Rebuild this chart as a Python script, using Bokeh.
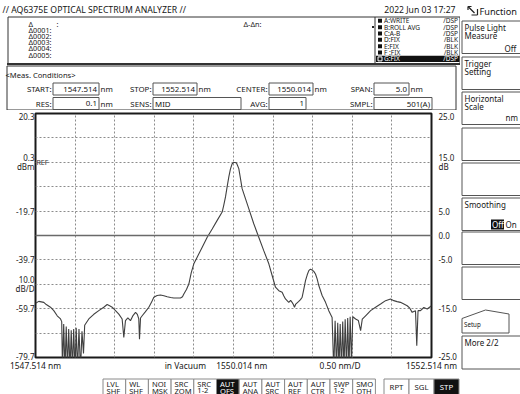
from bokeh.plotting import figure
from bokeh.layouts import row, column
from bokeh.models import Range1d, LinearAxis, FixedTicker, PrintfTickFormatter, Label, Span, Spacer
from bokeh.core.properties import value
from bokeh.embed import file_html
from bokeh.resources import INLINE

wavelength_nm = [
    1547.514, 1547.556, 1547.619, 1547.650, 1547.703, 1547.745, 1547.788, 1547.830, 1547.845,
    1547.855, 1547.870, 1547.886, 1547.902, 1547.918, 1547.933, 1547.950, 1547.965, 1547.981,
    1547.996, 1548.013, 1548.028, 1548.044, 1548.063, 1548.082, 1548.101, 1548.120, 1548.135,
    1548.145, 1548.187, 1548.250, 1548.313, 1548.376, 1548.419, 1548.450, 1548.482, 1548.524,
    1548.566, 1548.608, 1548.629, 1548.650, 1548.680, 1548.713, 1548.745, 1548.777, 1548.800,
    1548.818, 1548.827, 1548.840, 1548.861, 1548.900, 1548.945, 1548.980, 1549.008, 1549.050,
    1549.092, 1549.135, 1549.177, 1549.220, 1549.260, 1549.300, 1549.345, 1549.370, 1549.387,
    1549.420, 1549.450, 1549.480, 1549.513, 1549.555, 1549.619, 1549.682, 1549.745, 1549.808,
    1549.871, 1549.890, 1549.913, 1549.935, 1549.955, 1549.975, 1549.997, 1550.017, 1550.035,
    1550.052, 1550.065, 1550.081, 1550.100, 1550.123, 1550.165, 1550.207, 1550.270, 1550.333,
    1550.396, 1550.460, 1550.502, 1550.544, 1550.586, 1550.628, 1550.650, 1550.670, 1550.712,
    1550.735, 1550.754, 1550.770, 1550.784, 1550.800, 1550.838, 1550.860, 1550.881, 1550.900,
    1550.923, 1550.945, 1550.965, 1550.985, 1551.007, 1551.030, 1551.049, 1551.070, 1551.091,
    1551.133, 1551.176, 1551.217, 1551.259, 1551.280, 1551.297, 1551.315, 1551.330, 1551.346,
    1551.361, 1551.378, 1551.393, 1551.409, 1551.424, 1551.441, 1551.456, 1551.472, 1551.487,
    1551.504, 1551.520, 1551.556, 1551.590, 1551.619, 1551.640, 1551.682, 1551.745, 1551.808,
    1551.871, 1551.934, 1551.997, 1552.038, 1552.080, 1552.122, 1552.165, 1552.207, 1552.240,
    1552.270, 1552.312, 1552.328, 1552.344, 1552.375, 1552.417, 1552.460, 1552.514,
]
level_dbm = [
    -57.5, -56.7, -57.1, -58.0, -59.1, -60.5, -62.6, -63.9, -65.0,
    -85.0, -66.0, -85.0, -67.0, -85.0, -68.0, -85.0, -68.5, -85.0,
    -68.0, -85.0, -67.5, -85.0, -68.0, -85.0, -69.0, -78.0, -66.5,
    -66.0, -63.9, -62.0, -60.5, -59.1, -58.0, -58.5, -59.1, -60.5,
    -61.9, -63.9, -71.5, -64.6, -63.5, -64.6, -62.5, -61.2, -62.0,
    -63.9, -72.2, -63.5, -62.6, -61.0, -59.1, -57.0, -55.0, -54.3,
    -54.1, -54.4, -54.8, -55.1, -55.3, -55.3, -55.3, -54.8, -53.7,
    -51.8, -49.6, -45.0, -41.3, -38.6, -34.5, -30.4, -27.0, -23.5,
    -20.1, -17.5, -13.9, -9.5, -5.7, -2.5, -0.3, 0.2, 0.2,
    0.0, -1.0, -2.3, -6.0, -10.5, -14.6, -18.7, -24.9, -30.4,
    -35.9, -41.3, -46.1, -50.9, -52.3, -53.0, -54.5, -55.7, -57.1,
    -56.3, -57.1, -58.0, -59.1, -57.8, -56.7, -56.0, -55.0, -52.0,
    -48.2, -45.8, -44.1, -43.5, -43.8, -44.5, -45.5, -47.5, -50.2,
    -54.3, -57.1, -60.5, -63.3, -85.0, -64.6, -85.0, -65.5, -85.0,
    -66.0, -85.0, -65.0, -85.0, -64.0, -85.0, -63.5, -85.0, -63.0,
    -82.0, -63.0, -63.9, -64.5, -68.7, -64.0, -62.6, -60.5, -59.1,
    -57.8, -56.4, -55.7, -56.4, -56.8, -57.1, -57.8, -58.5, -59.5,
    -61.2, -60.5, -74.9, -60.5, -60.5, -59.2, -59.8, -58.5,
]

x_start_nm, x_stop_nm = 1547.514, 1552.514
y_bottom_dbm, y_top_dbm = -79.7, 20.3
rel_bottom_db, rel_top_db = -25.0, 25.0
x_grid_nm = [1548.014, 1548.514, 1549.014, 1549.514, 1550.014,
             1550.514, 1551.014, 1551.514, 1552.014]
y_grid_dbm = [10.3, 0.3, -9.7, -19.7, -29.7, -39.7, -49.7, -59.7, -69.7]
ref_line_dbm = -29.7
left_ticks = [20.3, 0.3, -19.7, -39.7, -49.7, -59.7, -79.7]
left_overrides = {0.3: "0.3\ndBm", -49.7: "10.0\ndB/D"}
right_ticks = [25.0, 15.0, 5.0, 0.0, -5.0, -15.0, -25.0]
right_overrides = {15.0: "15.0\ndB"}
x_label_nm = [1547.514, 1549.406, 1550.118, 1551.360, 1552.514]
x_label_text = ["1547.514 nm", "in Vacuum", "1550.014 nm", "0.50 nm/D", "1552.514 nm"]

title_text = "// AQ6375E OPTICAL SPECTRUM ANALYZER //"
date_text = "2022 Jun 03 17:27"
marker_rows = ["\u0394", "\u03940001:", "\u03940002:", "\u03940003:", "\u03940004:", "\u03940005:"]
trace_rows = [("A:WRITE", "/DSP"), ("B:ROLL AVG", "/DSP"), ("C:A-B", "/DSP"),
              ("D:FIX", "/BLK"), ("E:FIX", "/BLK"), ("F :FIX", "/BLK"), ("G:FIX", "/DSP")]
meas_row1 = [("START:", "1547.514", "nm"), ("STOP:", "1552.514", "nm"),
             ("CENTER:", "1550.014", "nm"), ("SPAN:", "5.0", "nm")]
meas_row2 = [("RES:", "0.1", "nm"), ("SENS:", "MID", ""), ("AVG:", "1", ""), ("SMPL:", "501(A)", "")]
soft_keys = [("LVL", "SHF"), ("WL", "SHF"), ("NOI", "MSK"), ("SRC", "ZOM"), ("SRC", "1-2"),
             ("AUT", "OFS"), ("AUT", "ANA"), ("AUT", "SRC"), ("AUT", "REF"), ("AUT", "CTR"),
             ("SWP", "1-2"), ("SMO", "OTH")]
sweep_keys = ["RPT", "SGL", "STP"]
menu_keys = [["Pulse Light", "Measure"], ["Trigger", "Setting"], ["Horizontal", "Scale"],
             [], [], ["Smoothing"], [], []]

FONT = "Noto Sans"
INK = "#161616"

# ---------------- page geometry (pixels) ----------------
W, H = 520, 394
LEFT_W = 460
TOP_H = 110
PLOT_H = 251
XLAB_H = 15
KEYS_H = H - TOP_H - PLOT_H - XLAB_H
FRAME_L, FRAME_R = 35, 431
FRAME_T, FRAME_B = 113, 357
PAD = 1  # spacer so the spectrum frame is not aligned with the other panels


def chrome(w, h, x0, y0, x_range=None):
    f = figure(width=w, height=h, output_backend="svg", toolbar_location=None,
               x_range=x_range if x_range is not None else Range1d(x0, x0 + w),
               y_range=Range1d(y0 + h, y0), x_axis_location=None, y_axis_location=None,
               min_border=0, min_border_left=0, min_border_right=0,
               min_border_top=0, min_border_bottom=0,
               background_fill_color="white", border_fill_color="white")
    f.title.visible = False
    f.grid.visible = False
    f.outline_line_color = None
    return f


def txt(f, x, y, s, size=8.0, align="left", color=INK, font=FONT):
    f.text(x=[x], y=[y], text=[s], text_font=value(font), text_font_size=value(f"{size}px"),
           text_align=align, text_baseline="middle", text_color=color)


def box(f, x0, y0, x1, y1, fill=None, line="#555555", lw=1):
    f.quad(left=[x0], right=[x1], top=[y0], bottom=[y1],
           fill_color=fill if fill else "white", fill_alpha=1.0 if fill else 0.0,
           line_color=line if line else "white", line_alpha=1.0 if line else 0.0,
           line_width=lw)


def hline(f, x0, x1, y, color="#333333", lw=1):
    f.segment(x0=[x0], y0=[y], x1=[x1], y1=[y], line_color=color, line_width=lw)


# ---------------- header ----------------
top = chrome(LEFT_W, TOP_H, 0, 0)
txt(top, 2, 9, title_text, size=8.7)
txt(top, 455, 9, date_text, size=8.6, align="right")
box(top, 7.5, 16.5, 459.5, 63, line="#333333")
top.segment(x0=[374.5], y0=[16.5], x1=[374.5], y1=[63], line_color="#333333", line_width=1)
for i, m in enumerate(marker_rows):
    txt(top, 28, 23 + 6.2 * i, m, size=7.2)
txt(top, 56, 23, ":", size=7.2)
txt(top, 243, 23, "\u0394-\u0394n:", size=7.2)
box(top, 371.5, 25.5, 373.5, 27.5, fill="#222222", line=None)
for i, (name, mode) in enumerate(trace_rows):
    yc = 20.3 + 6.35 * i
    last = i == len(trace_rows) - 1
    if last:
        box(top, 375.5, yc - 3.1, 459, yc + 3.1, fill="#111111", line=None)
        box(top, 377.5, yc - 2, 381.5, yc + 2, fill="#111111", line="#ffffff")
    else:
        box(top, 377.5, yc - 2, 381.5, yc + 2, fill="#111111", line=None)
    col = "white" if last else INK
    txt(top, 383.5, yc, name, size=6.5, color=col)
    txt(top, 457.5, yc, mode, size=6.5, align="right", color=col)

# measurement conditions
hline(top, 6.5, 459.5, 63.5, lw=2)
box(top, 6.5, 65.5, 455.5, 109.5, line="#333333")
txt(top, 5, 74, "<Meas. Conditions>", size=7.6)
label_end = [51, 151, 267, 372]
fields1 = [(52.5, 98.5), (152.5, 196.5), (268.5, 312.5), (373.5, 408.5)]
fields2 = [(52.5, 98.5), (152.5, 240.5), (268.5, 305.5), (373.5, 431.5)]
for items, yc, fields in ((meas_row1, 88.5, fields1), (meas_row2, 103, fields2)):
    for k, (lab, val, unit) in enumerate(items):
        bx0, bx1 = fields[k]
        txt(top, label_end[k], yc, lab, size=7.9, align="right")
        box(top, bx0, yc - 6, bx1, yc + 6, fill="white", line="#555555")
        if val == "MID":
            txt(top, bx0 + 2, yc, val, size=7.9)
        else:
            txt(top, bx1 - 2, yc, val, size=7.9, align="right")
        if unit:
            txt(top, bx1 + 1.5, yc, unit, size=7.9)

# ---------------- spectrum ----------------
plot_w = LEFT_W - 2 * PAD
plot = figure(width=plot_w, height=PLOT_H, output_backend="svg", toolbar_location=None,
              x_range=Range1d(x_start_nm, x_stop_nm), y_range=Range1d(y_bottom_dbm, y_top_dbm),
              x_axis_location=None, y_axis_location="left",
              min_border_left=FRAME_L - PAD, min_border_right=LEFT_W - PAD - FRAME_R,
              min_border_top=FRAME_T - TOP_H, min_border_bottom=TOP_H + PLOT_H - FRAME_B,
              background_fill_color="white", border_fill_color="white")
plot.title.visible = False
plot.outline_line_color = "#1a1a1a"
plot.outline_line_width = 2
plot.xgrid[0].ticker = FixedTicker(ticks=x_grid_nm)
plot.ygrid[0].ticker = FixedTicker(ticks=y_grid_dbm)
for g in (plot.xgrid[0], plot.ygrid[0]):
    g.grid_line_color = "#8c8c8c"
    g.grid_line_dash = "2 2"
    g.grid_line_width = 1


def style_axis(ax, standoff):
    ax.major_tick_line_color = None
    ax.minor_tick_line_color = None
    ax.axis_line_color = None
    ax.major_tick_out = 0
    ax.major_tick_in = 0
    ax.minor_tick_out = 0
    ax.minor_tick_in = 0
    ax.major_label_standoff = standoff
    ax.major_label_text_font = FONT
    ax.major_label_text_font_size = "8px"
    ax.major_label_text_color = "#222222"
    ax.major_label_text_line_height = 0.85


ya = plot.yaxis[0]
ya.ticker = FixedTicker(ticks=left_ticks)
ya.formatter = PrintfTickFormatter(format="%.1f")
ya.major_label_overrides = left_overrides
style_axis(ya, 1)

plot.extra_y_ranges = {"rel": Range1d(rel_bottom_db, rel_top_db)}
ra = LinearAxis(y_range_name="rel", ticker=FixedTicker(ticks=right_ticks),
                formatter=PrintfTickFormatter(format="%.1f"),
                major_label_overrides=right_overrides)
style_axis(ra, 7)
plot.add_layout(ra, "right")

plot.line(wavelength_nm, level_dbm, line_color="#404040", line_width=1.1)
plot.add_layout(Span(location=ref_line_dbm, dimension="width", line_color="#6a6a6a", line_width=1.5))
plot.add_layout(Label(x=x_start_nm, y=0.3, text="REF", x_offset=1, text_baseline="middle",
                      text_font=FONT, text_font_size="7px", text_color="#333333"))

plot_row = row(Spacer(width=PAD, height=PLOT_H), plot, Spacer(width=PAD, height=PLOT_H), spacing=0)

# ---------------- x information line, on the same wavelength scale ----------------
nm_per_px = (x_stop_nm - x_start_nm) / (FRAME_R - FRAME_L)
xl_range = Range1d(x_start_nm - FRAME_L * nm_per_px, x_start_nm + (LEFT_W - FRAME_L) * nm_per_px)
xlab = chrome(LEFT_W, XLAB_H, 0, TOP_H + PLOT_H, x_range=xl_range)
xlab.text(x=x_label_nm, y=[365] * len(x_label_nm), text=x_label_text,
          text_font=value(FONT), text_font_size=value("8.4px"), text_align="center",
          text_baseline="middle", text_color=INK)

# ---------------- soft keys ----------------
keys = chrome(LEFT_W, KEYS_H, 0, TOP_H + PLOT_H + XLAB_H)
kx0, kw = 102.5, 22.7
for i, (a, b) in enumerate(soft_keys):
    x0 = kx0 + kw * i
    active = i == 5
    box(keys, x0, 378.5, x0 + kw, 400, fill="#111111" if active else "white", line="#8a8a8a")
    col = "white" if active else "#222222"
    txt(keys, x0 + 3.5, 383.5, a, size=7.6, color=col)
    txt(keys, x0 + 3.5, 390, b, size=7.6, color=col)
sx0, sw = 383.5, 25.0
for i, s in enumerate(sweep_keys):
    x0 = sx0 + sw * i
    active = i == 2
    box(keys, x0, 378.5, x0 + sw, 400, fill="#111111" if active else "white", line="#8a8a8a")
    txt(keys, x0 + sw / 2, 386.5, s, size=7.8, align="center", color="white" if active else "#222222")

# ---------------- right function panel ----------------
side = chrome(W - LEFT_W, H, LEFT_W, 0)
side.segment(x0=[467.5], y0=[6], x1=[474], y1=[12.5], line_color="#222222", line_width=1.2)
side.segment(x0=[467.5, 467.5], y0=[6, 6], x1=[471, 467.5], y1=[6, 9.5], line_color="#222222", line_width=1.2)
side.segment(x0=[471, 477], y0=[14.5, 8.5], x1=[477, 477], y1=[14.5, 14.5], line_color="#222222", line_width=1.2)
txt(side, 479, 11, "Function", size=9.2)
tops = [20.5, 56.5, 91.5, 127.5, 162.5, 197.5, 231.5, 266.5]
for t, lines in zip(tops, menu_keys):
    box(side, 461.5, t, 540, t + 32.5, fill="white", line="#555555")
    for j, s in enumerate(lines):
        txt(side, 464, t + 6 + 8.6 * j, s, size=8.0)
txt(side, 504, 47.5, "Off", size=8.0)
txt(side, 505, 116.5, "nm", size=8.0)
box(side, 490.5, 219, 503.5, 229, fill="#111111", line=None)
txt(side, 491.5, 224, "Off", size=8.0, color="white")
txt(side, 505, 224, "On", size=8.0)
side.patch(x=[461.5, 461.5, 485, 508.5, 508.5], y=[332.5, 318, 309.5, 313.5, 332.5],
           fill_color="white", line_color="#555555", line_width=1)
txt(side, 463.5, 324, "Setup", size=6.2)
box(side, 461.5, 335.5, 540, 368.5, fill="white", line="#555555")
txt(side, 464, 341.5, "More 2/2", size=8.0)

page = row(column(top, plot_row, xlab, keys, spacing=0), side, spacing=0)
open("out.html", "w").write(file_html(page, INLINE))
